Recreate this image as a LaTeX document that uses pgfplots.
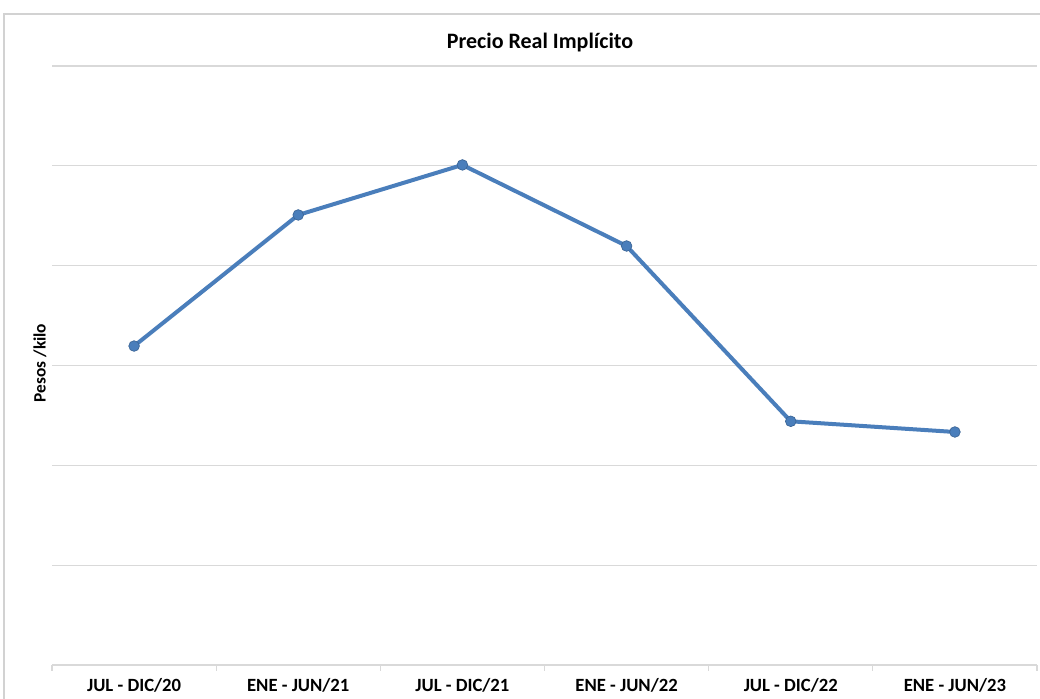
\documentclass[border=0pt]{standalone}
\usepackage{fontspec}
\setmainfont{Carlito}
\usepackage{pgfplots}
\pgfplotsset{compat=1.18}
\definecolor{lineblue}{RGB}{74,126,187}
\definecolor{gridgray}{RGB}{217,217,217}
\definecolor{framegray}{RGB}{210,210,210}
\begin{document}
\begin{tikzpicture}
\path[use as bounding box] (0pt,0pt) rectangle (780pt,524.25pt);
\fill[white] (0pt,0pt) rectangle (780pt,524.25pt);
\draw[framegray,line width=0.9pt] (3pt,0pt) -- (3pt,513.75pt) -- (780pt,513.75pt);
\begin{axis}[
  at={(39pt,25.5pt)}, anchor=south west,
  scale only axis,
  width=738.75pt, height=449.25pt,
  xmin=-0.5, xmax=5.5, ymin=0, ymax=6,
  xtick={0,...,5},
  xticklabels={JUL - DIC/20, ENE - JUN/21, JUL - DIC/21, ENE - JUN/22, JUL - DIC/22, ENE - JUN/23},
  minor xtick={-0.5,0.5,...,5.5},
  major x tick style={draw=none},
  minor tick length=4.5pt,
  minor x tick style={gridgray, line width=0.9pt},
  tick align=outside,
  ytick={0,...,6},
  yticklabels={},
  major y tick style={draw=none},
  ymajorgrids,
  grid style={gridgray, line width=0.9pt},
  axis x line*=bottom,
  axis y line*=left,
  y axis line style={draw=none},
  x axis line style={draw=gridgray, line width=0.9pt, -},
  xticklabel style={font=\bfseries\fontsize{14}{16}\selectfont, yshift=-2pt},
  clip=false,
]
\addplot[color=lineblue, line width=3pt, mark=*, mark size=4pt,
  mark options={fill=lineblue, draw=lineblue!80!black, line width=0.5pt}]
  coordinates {(0,3.195) (1,4.508) (2,5.009) (3,4.197) (4,2.441) (5,2.334)};
\end{axis}
\node[font=\bfseries\fontsize{16.5}{18}\selectfont] at (405pt,492pt) {Precio Real Implícito};
\node[font=\bfseries\fontsize{13}{15}\selectfont, rotate=90] at (30pt,252pt) {Pesos /kilo};
\end{tikzpicture}
\end{document}
